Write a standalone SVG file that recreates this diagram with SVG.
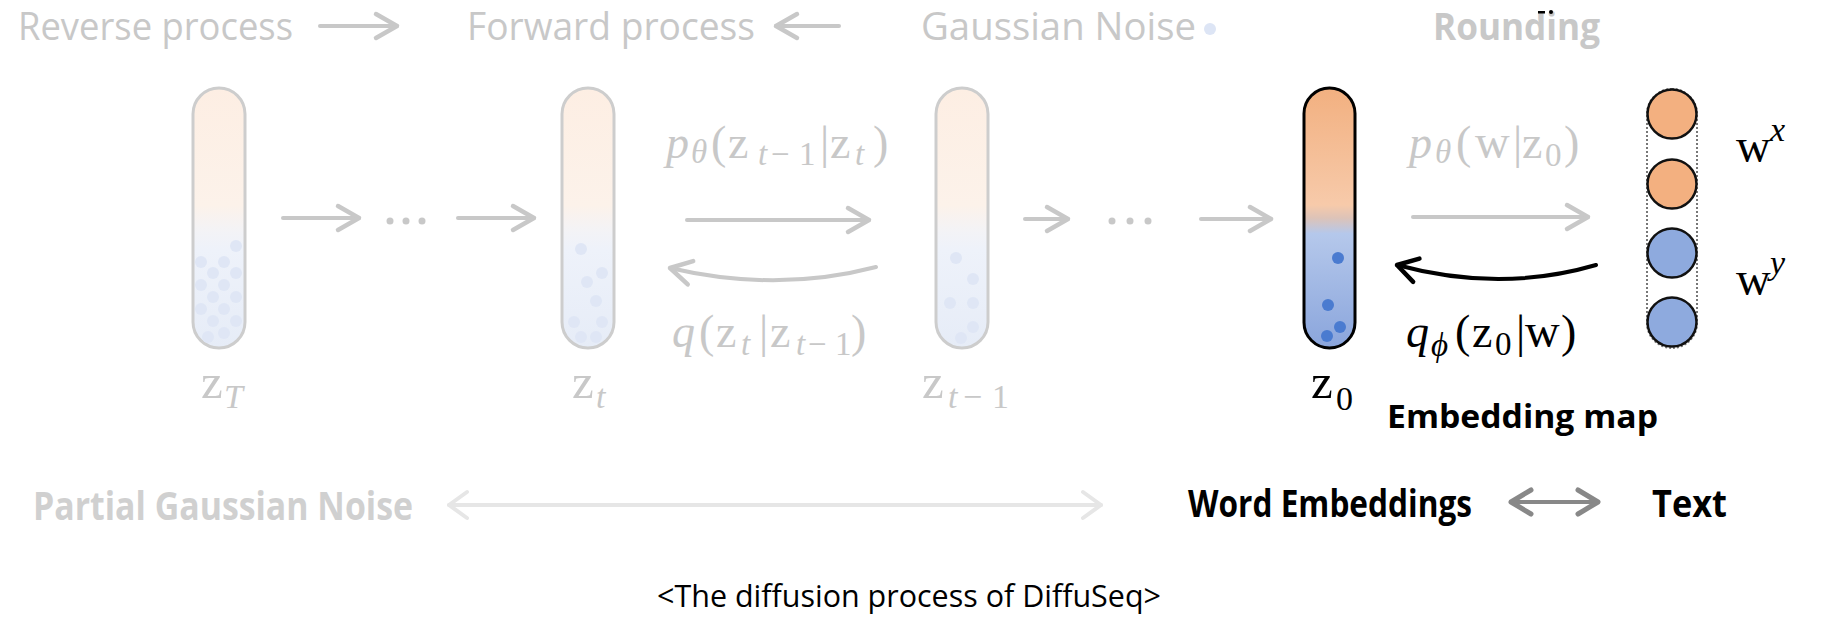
<svg xmlns="http://www.w3.org/2000/svg" width="1821" height="618" viewBox="0 0 1821 618">
<style>
.sans{font-family:"Open Sans","Liberation Sans",sans-serif}
.leg{font-size:38px;fill:#c8c8c8}
.bold{font-weight:700}
.m{font-family:"Liberation Serif","DejaVu Serif",serif;font-size:46px}
.zl{font-size:49px}
.sub{font-size:33px}
.sub2{font-size:34px}
.it{font-style:italic}
.fade{fill:#c8c8c8}
.ink{fill:#000}
.tubef{stroke:#cdcdcd;stroke-width:3;fill:url(#gf)}
.tube0{stroke:#000;stroke-width:3;fill:url(#g0)}
.dotf{fill:#dfe6f5}
.dot0{fill:#4a7bd0}
.arr{fill:none;stroke-width:4;stroke-linecap:round}
.g{stroke:#c8c8c8}
</style>
<defs>
<linearGradient id="gf" gradientUnits="userSpaceOnUse" x1="0" y1="88" x2="0" y2="348">
<stop offset="0" stop-color="#fdeee3"/>
<stop offset="0.45" stop-color="#fcf2ea"/>
<stop offset="0.55" stop-color="#f3f3f6"/>
<stop offset="0.62" stop-color="#eef2fa"/>
<stop offset="1" stop-color="#e6ecf7"/>
</linearGradient>
<linearGradient id="g0" gradientUnits="userSpaceOnUse" x1="0" y1="88" x2="0" y2="348">
<stop offset="0" stop-color="#f2b080"/>
<stop offset="0.45" stop-color="#f7caaa"/>
<stop offset="0.5" stop-color="#ddc3b8"/>
<stop offset="0.56" stop-color="#b5c8eb"/>
<stop offset="1" stop-color="#8aa5dc"/>
</linearGradient>
<marker id="hg" viewBox="-26 -16 30 32" refX="0" refY="0" markerWidth="30" markerHeight="32" markerUnits="userSpaceOnUse" orient="auto-start-reverse"><path d="M-21,-12 L0,0 L-21,12" fill="none" stroke="#c8c8c8" stroke-width="4.5" stroke-linecap="round" stroke-linejoin="round"/></marker>
<marker id="hk" viewBox="-26 -16 30 32" refX="0" refY="0" markerWidth="30" markerHeight="32" markerUnits="userSpaceOnUse" orient="auto-start-reverse"><path d="M-20,-12 L0,0 L-20,12" fill="none" stroke="#000" stroke-width="4.5" stroke-linecap="round" stroke-linejoin="round"/></marker>
<marker id="hl" viewBox="-26 -16 30 32" refX="0" refY="0" markerWidth="30" markerHeight="32" markerUnits="userSpaceOnUse" orient="auto-start-reverse"><path d="M-18,-13 L0,0 L-18,13" fill="none" stroke="#e6e6e6" stroke-width="4" stroke-linecap="round" stroke-linejoin="round"/></marker>
<marker id="hd" viewBox="-26 -16 30 32" refX="0" refY="0" markerWidth="30" markerHeight="32" markerUnits="userSpaceOnUse" orient="auto-start-reverse"><path d="M-20,-12 L0,0 L-20,12" fill="none" stroke="#888" stroke-width="5" stroke-linecap="round" stroke-linejoin="round"/></marker>
</defs>
<rect width="1821" height="618" fill="#fff"/>

<g id="legend">
<text class="sans leg" x="18" y="40" textLength="275" lengthAdjust="spacingAndGlyphs">Reverse process</text>
<line class="arr g" x1="320" y1="26" x2="397" y2="26" stroke-width="5" marker-end="url(#hg)"/>
<text class="sans leg" x="467" y="40" textLength="288" lengthAdjust="spacingAndGlyphs">Forward process</text>
<line class="arr g" x1="839" y1="26" x2="776" y2="26" stroke-width="5" marker-end="url(#hg)"/>
<text class="sans leg" x="921" y="40" textLength="275" lengthAdjust="spacingAndGlyphs">Gaussian Noise</text>
<circle cx="1210" cy="29" r="6" fill="#dde5f5"/>
<text class="sans leg bold" x="1433" y="40" textLength="167" lengthAdjust="spacingAndGlyphs">Rounding</text>
<rect x="1538" y="11" width="7" height="2.5" fill="#000"/>
<circle cx="1551" cy="12" r="2" fill="#000"/>
</g>

<g id="node-zT">
<rect class="tubef" x="193" y="88" width="52" height="260" rx="26"/>
<g class="dotf">
<circle cx="236" cy="246" r="6"/><circle cx="201" cy="262" r="6"/><circle cx="224" cy="262" r="6"/>
<circle cx="213" cy="273" r="6"/><circle cx="236" cy="273" r="6"/><circle cx="201" cy="285" r="6"/>
<circle cx="224" cy="285" r="6"/><circle cx="213" cy="297" r="6"/><circle cx="236" cy="297" r="6"/>
<circle cx="201" cy="309" r="6"/><circle cx="224" cy="309" r="6"/><circle cx="213" cy="321" r="6"/>
<circle cx="236" cy="321" r="6"/><circle cx="208" cy="337" r="6"/><circle cx="224" cy="333" r="6"/>
</g>
<text class="m fade"><tspan class="zl" x="201" y="398">z</tspan><tspan class="sub2 it" x="224" y="408">T</tspan></text>
</g>

<g id="node-zt">
<rect class="tubef" x="562" y="88" width="52" height="260" rx="26"/>
<g class="dotf">
<circle cx="581" cy="249" r="6"/><circle cx="602" cy="273" r="6"/><circle cx="587" cy="282" r="6"/>
<circle cx="596" cy="301" r="6"/><circle cx="574" cy="322" r="6"/><circle cx="602" cy="322" r="6"/>
<circle cx="581" cy="337" r="6"/><circle cx="596" cy="337" r="6"/>
</g>
<text class="m fade"><tspan class="zl" x="572" y="398">z</tspan><tspan class="sub2 it" x="596" y="408">t</tspan></text>
</g>

<g id="node-zt1">
<rect class="tubef" x="936" y="88" width="52" height="260" rx="26"/>
<g class="dotf">
<circle cx="956" cy="258" r="6"/><circle cx="973" cy="279" r="6"/><circle cx="950" cy="303" r="6"/>
<circle cx="973" cy="303" r="6"/><circle cx="973" cy="327" r="6"/><circle cx="961" cy="338" r="6"/>
</g>
<text class="m fade"><tspan class="zl" x="922" y="398">z</tspan><tspan class="sub2 it" x="948" y="408">t</tspan><tspan class="sub2" x="963" y="408">−</tspan><tspan class="sub2" x="992" y="408">1</tspan></text>
</g>

<g id="node-z0">
<rect class="tube0" x="1304" y="88" width="51" height="260" rx="25.5"/>
<g class="dot0">
<circle cx="1338" cy="258" r="6"/><circle cx="1328" cy="305" r="6"/><circle cx="1340" cy="327" r="6"/><circle cx="1327" cy="336" r="6"/>
</g>
<text class="m ink"><tspan class="zl" x="1311" y="398">z</tspan><tspan class="sub2" x="1336" y="410">0</tspan></text>
<text class="sans bold" x="1387" y="428" font-size="33" fill="#000" textLength="271" lengthAdjust="spacingAndGlyphs">Embedding map</text>
</g>

<g id="node-words">
<rect x="1647" y="89" width="50" height="259" rx="25" fill="none" stroke="#777" stroke-width="2" stroke-dasharray="2 2"/>
<g stroke="#111" stroke-width="2.5">
<circle cx="1672" cy="114" r="24.5" fill="#f3b080"/>
<circle cx="1672" cy="184" r="24.5" fill="#f3b080"/>
<circle cx="1672" cy="253" r="24.5" fill="#8eaade"/>
<circle cx="1672" cy="322" r="24.5" fill="#8eaade"/>
</g>
<text class="m ink"><tspan x="1736" y="162" font-size="48">w</tspan><tspan class="it" x="1770" y="141" font-size="34">x</tspan></text>
<text class="m ink"><tspan x="1736" y="295" font-size="48">w</tspan><tspan class="it" x="1770" y="274" font-size="34">y</tspan></text>
</g>

<g id="labels">
<text class="m fade"><tspan class="it" x="666" y="158">p</tspan><tspan class="it sub" x="691" y="163">θ</tspan><tspan x="711" y="158">(</tspan><tspan x="728" y="158">z</tspan><tspan class="it sub" x="758" y="165">t</tspan><tspan class="sub" x="771" y="165">−</tspan><tspan class="sub" x="799" y="165">1</tspan><tspan x="820" y="158">|</tspan><tspan x="830" y="158">z</tspan><tspan class="it sub" x="855" y="165">t</tspan><tspan x="873" y="158">)</tspan></text>
<text class="m fade"><tspan class="it" x="672" y="347">q</tspan><tspan x="699" y="347">(</tspan><tspan x="716" y="347">z</tspan><tspan class="it sub" x="741" y="355">t</tspan><tspan x="759" y="347">|</tspan><tspan x="770" y="347">z</tspan><tspan class="it sub" x="796" y="355">t</tspan><tspan class="sub" x="808" y="355">−</tspan><tspan class="sub" x="835" y="355">1</tspan><tspan x="851" y="347">)</tspan></text>
<text class="m fade"><tspan class="it" x="1409" y="158">p</tspan><tspan class="it sub" x="1435" y="163">θ</tspan><tspan x="1456" y="158">(</tspan><tspan x="1475" y="158" font-size="48">w</tspan><tspan x="1513" y="158">|</tspan><tspan x="1522" y="158">z</tspan><tspan class="sub" x="1545" y="166">0</tspan><tspan x="1564" y="158">)</tspan></text>
<text class="m ink"><tspan class="it" x="1406" y="347">q</tspan><tspan class="it sub" x="1431" y="356">ϕ</tspan><tspan x="1455" y="347">(</tspan><tspan x="1472" y="347">z</tspan><tspan class="sub" x="1495" y="355">0</tspan><tspan x="1516" y="347">|</tspan><tspan x="1525" y="347" font-size="48">w</tspan><tspan x="1561" y="347">)</tspan></text>
</g>

<g id="connectors">
<line class="arr g" x1="283" y1="218" x2="359" y2="218" marker-end="url(#hg)"/>
<g fill="#c8c8c8"><circle cx="390" cy="221" r="3.5"/><circle cx="406" cy="221" r="3.5"/><circle cx="422" cy="221" r="3.5"/></g>
<line class="arr g" x1="458" y1="218" x2="534" y2="218" marker-end="url(#hg)"/>
<line class="arr g" x1="687" y1="220" x2="869" y2="220" marker-end="url(#hg)"/>
<path class="arr g" d="M876,267 Q777,293 670,268" marker-end="url(#hg)"/>
<line class="arr g" x1="1025" y1="219" x2="1068" y2="219" marker-end="url(#hg)"/>
<g fill="#c8c8c8"><circle cx="1112" cy="221" r="3.5"/><circle cx="1130" cy="221" r="3.5"/><circle cx="1148" cy="221" r="3.5"/></g>
<line class="arr g" x1="1201" y1="219" x2="1271" y2="219" marker-end="url(#hg)"/>
<line class="arr g" x1="1413" y1="217" x2="1588" y2="217" marker-end="url(#hg)"/>
<path class="arr" stroke="#000" stroke-width="4.5" d="M1596,265 Q1500,293 1397,265" marker-end="url(#hk)"/>
<line class="arr" stroke="#e6e6e6" x1="449" y1="505" x2="1101" y2="505" marker-start="url(#hl)" marker-end="url(#hl)"/>
<line class="arr" stroke="#888" stroke-width="5" x1="1511" y1="502" x2="1598" y2="502" marker-start="url(#hd)" marker-end="url(#hd)"/>
</g>

<g id="bottom-labels">
<text class="sans bold" x="33" y="520" font-size="39" fill="#d0d0d0" textLength="380" lengthAdjust="spacingAndGlyphs">Partial Gaussian Noise</text>
<text class="sans bold" x="1188" y="517" font-size="38" fill="#000" textLength="284" lengthAdjust="spacingAndGlyphs">Word Embeddings</text>
<text class="sans bold" x="1652" y="517" font-size="38" fill="#000" textLength="75" lengthAdjust="spacingAndGlyphs">Text</text>
<text class="sans" x="657" y="607" font-size="31" fill="#000" textLength="504" lengthAdjust="spacingAndGlyphs">&lt;The diffusion process of DiffuSeq&gt;</text>
</g>
</svg>
